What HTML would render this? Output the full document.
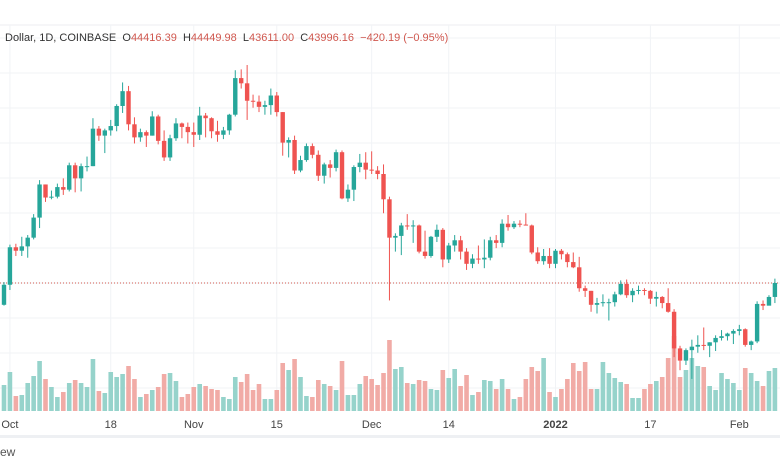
<!DOCTYPE html>
<html><head><meta charset="utf-8"><style>
html,body{margin:0;padding:0;background:#fff;width:780px;height:470px;overflow:hidden;font-family:"Liberation Sans",sans-serif}
#hdr{position:absolute;left:5px;top:32px;font-size:11px;color:#333;white-space:nowrap}
#hdr span.r{color:#d0584f}
#ft{position:absolute;left:0;top:445px;font-size:12px;color:#555}
</style></head><body>
<svg id="chart" width="780" height="470" style="position:absolute;left:0;top:0"></svg>
<div id="hdr">Dollar, 1D, COINBASE&nbsp; O<span class="r">44416.39</span>&nbsp; H<span class="r">44449.98</span>&nbsp; L<span class="r">43611.00</span>&nbsp; C<span class="r">43996.16</span>&nbsp; <span class="r">−420.19 (−0.95%)</span></div>
<div id="ft">ew</div>
<script>
const closes=[43800,
48100,47700,48200,49200,51500,55300,53800,53900,55000,54700,57500,56000,57400,57400,61700,60900,61500,62000,64300,66000,62200,60700,61300,60900,63100,60300,58400,60600,62300,61900,61300,
61000,63200,62900,61400,61000,61500,63300,67500,66900,64900,64800,64200,64400,65500,63600,60100,60400,56900,58100,59700,58700,56300,57600,57200,59000,53700,54700,57300,57800,57000,
56900,56500,53600,49200,49400,50600,50500,50600,47600,47100,49300,50100,46700,48300,48900,47600,46200,46800,46700,46900,48900,48600,50800,50400,50800,50700,50600,47500,46500,47100,46200,
47700,47300,46400,45800,43400,43100,41500,41700,41800,41800,42700,43900,42600,43100,43200,43100,42200,42400,41700,40700,36500,35100,36300,36700,36900,36800,37200,37700,37900,38200,38500,
38700,36900,37300,41600,41400,42400,44000];
const firstOpen=41500;
const highs=[44100,
48400,48500,49300,49500,51900,55800,55300,54600,55400,56000,57800,57800,57700,58500,62900,62000,61700,62700,64500,67000,66600,63000,61700,61500,63700,63300,61500,61000,62900,62400,62400,
62400,64200,63500,63000,62600,61900,63400,68400,68500,69000,65600,65500,64900,66300,65900,63600,60700,60900,58600,60000,60000,59200,57800,58100,59300,59200,55300,57500,58800,59000,
59100,57400,57600,53900,49700,50900,51900,51200,50700,50000,49400,50700,50300,48600,49500,49400,48000,47300,48300,49000,49300,49500,51300,51800,51100,51200,52000,50700,48100,47900,48000,
47900,47900,47500,47500,47000,43700,43100,42300,42700,42200,43000,44300,44400,43400,43700,43400,43200,43000,42500,43400,41000,36800,36500,37500,38000,38900,37200,38000,38600,38300,38700,
39200,38800,37400,41900,42000,42600,44500];
const lows=[41400,
43200,47100,47100,46900,49000,50300,53300,53600,53700,54100,54500,54400,54500,56800,57400,60300,58900,60900,61400,63500,61500,60000,60200,59600,60900,59900,58000,58000,60300,60600,60000,
59600,60400,60700,60600,60200,60500,61000,63100,66300,62700,64100,63600,63300,63300,63100,58600,58400,56500,56700,57900,58300,55700,55400,56100,56800,53600,53300,53400,56700,55900,
56500,55900,52000,42000,47600,47200,50100,48600,47400,46800,46900,48700,45800,46300,47600,46700,45500,45700,46200,45700,46600,48000,48100,50000,50200,50400,50600,47300,46200,46100,45700,
45700,46700,45800,45700,43000,42400,40700,40500,41300,39700,41300,42600,42300,41800,42700,42600,41600,41300,41100,40600,35500,34000,34600,33000,36000,36300,35500,36200,37400,37400,37000,
38000,36700,36300,37100,40900,41700,41700];
const volumes=[26,39,15,16,28,35,50,32,24,14,19,28,31,28,24,52,20,18,39,34,37,45,32,14,17,21,24,37,38,30,14,17,24,27,25,22,21,14,12,34,29,37,21,27,12,12,21,48,41,52,34,15,14,31,27,25,21,50,16,16,27,35,32,26,38,71,42,44,28,27,31,30,22,21,41,33,42,25,36,16,19,31,30,22,32,22,12,14,32,44,40,53,19,14,22,32,48,40,49,22,22,49,38,33,29,27,13,13,22,27,30,34,53,75,34,41,53,45,44,25,21,38,32,28,21,43,38,30,25,40,43];
const tickLabels=["Oct","18","Nov","15","Dec","14","2022","17","Feb"];
const tickIdx=[1,18,32,46,62,75,93,109,124];
const lastPrice=44000;

const NS="http://www.w3.org/2000/svg";
const svg=document.getElementById('chart');
function xS(i){return 4+i*5.93;}
function yS(p){return 283-(p-44000)*0.00872;}
function vS(v){return v*1.0;}
function mk(t,a,parent){const e=document.createElementNS(NS,t);for(const k in a)e.setAttribute(k,a[k]);(parent||svg).appendChild(e);return e;}
// frame lines
let l=mk('line',{x1:0,x2:780,y1:25,y2:25,stroke:'#eceef2'});


for(let y=38;y<410;y+=35){const g=mk('line',{x1:0,x2:780,y1:y,y2:y,stroke:'#f1f3f6'});

}
tickIdx.forEach((ti,k)=>{const x=xS(ti);
const g=mk('line',{x1:x,x2:x,y1:25,y2:411,stroke:'#f1f3f6'});


const t=mk('text',{x:x,y:428,'font-size':11,fill:'#444','text-anchor':'middle','font-family':'Liberation Sans, sans-serif','font-weight':tickLabels[k]==='2022'?'bold':'normal'});
t.textContent=tickLabels[k];

});
const band=mk('rect',{x:0,y:435,width:780,height:3,fill:'#eef0f3'});


// volume
const volG=mk('g',{});


closes.forEach((c,i)=>{const o=i?closes[i-1]:firstOpen;const v=volumes[i]||0;const h=vS(v);
const r=mk('rect',{x:xS(i)-2.3,y:411-h,width:4.6,height:h,fill:c>=o?'#96d3cb':'#f1aba6'},volG);

});
// last price line
const pl=mk('line',{x1:0,x2:780,y1:yS(lastPrice),y2:yS(lastPrice),stroke:'#d0584f','stroke-dasharray':'1,2','stroke-width':1});


// candles
const cg=mk('g',{});


closes.forEach((c,i)=>{const o=i?closes[i-1]:firstOpen;const col=c>=o?'#26a69a':'#ef5350';const x=xS(i);
const w=mk('line',{x1:x,x2:x,y1:yS(highs[i]),y2:yS(lows[i]),stroke:col,'stroke-width':1},cg);


const t=Math.min(yS(o),yS(c)),h=Math.max(1,Math.abs(yS(o)-yS(c)));
const b=mk('rect',{x:x-2.2,y:t,width:4.4,height:h,fill:col},cg);

});
</script>
</body></html>
